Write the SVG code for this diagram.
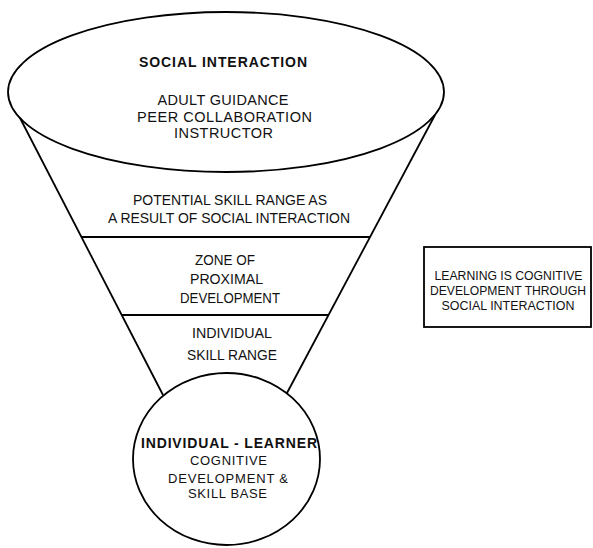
<svg xmlns="http://www.w3.org/2000/svg" width="593" height="548" viewBox="0 0 593 548">
<style>
.s{fill:none;stroke:#000;stroke-width:1.8}
.t{font-family:"Liberation Sans",Arial,sans-serif;font-size:14.5px;fill:#111;text-anchor:middle}
.b{font-weight:bold;font-size:14px}
.n{font-size:14px}
.m{font-size:13px}
.k{font-size:12.5px}
</style>
<rect width="593" height="548" fill="#fff"/>
<g id="connectors">
<line class="s" x1="20" y1="118" x2="163" y2="395"/>
<line class="s" x1="435" y1="115" x2="287" y2="393"/>
</g>
<g id="social-interaction">
<ellipse class="s" cx="226" cy="92" rx="218" ry="80"/>
<text class="t b" x="223" y="67" textLength="168" lengthAdjust="spacing">SOCIAL INTERACTION</text>
<text class="t" x="223" y="105" textLength="131" lengthAdjust="spacing">ADULT GUIDANCE</text>
<text class="t" x="224.5" y="122" textLength="175" lengthAdjust="spacing">PEER COLLABORATION</text>
<text class="t" x="223.5" y="138" textLength="99" lengthAdjust="spacing">INSTRUCTOR</text>
</g>
<g id="potential-skill-range">
<text class="t n" x="230" y="205" textLength="194" lengthAdjust="spacingAndGlyphs">POTENTIAL SKILL RANGE AS</text>
<text class="t n" x="229" y="223" textLength="242" lengthAdjust="spacingAndGlyphs">A RESULT OF SOCIAL INTERACTION</text>
<line class="s" x1="81.4" y1="237" x2="370" y2="237"/>
</g>
<g id="zpd">
<text class="t n" x="225" y="265" textLength="60" lengthAdjust="spacingAndGlyphs">ZONE OF</text>
<text class="t n" x="226.5" y="284" textLength="73" lengthAdjust="spacingAndGlyphs">PROXIMAL</text>
<text class="t n" x="230" y="303" textLength="100" lengthAdjust="spacingAndGlyphs">DEVELOPMENT</text>
<line class="s" x1="121.7" y1="315" x2="328.5" y2="315"/>
</g>
<g id="individual-skill-range">
<text class="t n" x="232" y="338" textLength="80" lengthAdjust="spacingAndGlyphs">INDIVIDUAL</text>
<text class="t n" x="232" y="360" textLength="90" lengthAdjust="spacingAndGlyphs">SKILL RANGE</text>
</g>
<g id="individual-learner">
<ellipse class="s" cx="226.5" cy="459" rx="93.5" ry="86"/>
<text class="t b" x="229" y="448" textLength="176" lengthAdjust="spacing">INDIVIDUAL - LEARNER</text>
<text class="t m" x="228.5" y="465" textLength="77" lengthAdjust="spacing">COGNITIVE</text>
<text class="t m" x="228" y="483" textLength="120" lengthAdjust="spacing">DEVELOPMENT &amp;</text>
<text class="t m" x="227.5" y="498" textLength="79" lengthAdjust="spacing">SKILL BASE</text>
</g>
<g id="learning-box">
<rect class="s" x="424" y="247" width="167" height="80"/>
<text class="t k" x="508.5" y="280" textLength="148" lengthAdjust="spacingAndGlyphs">LEARNING IS COGNITIVE</text>
<text class="t k" x="508" y="295" textLength="156" lengthAdjust="spacingAndGlyphs">DEVELOPMENT THROUGH</text>
<text class="t k" x="508" y="310" textLength="133" lengthAdjust="spacingAndGlyphs">SOCIAL INTERACTION</text>
</g>
</svg>
